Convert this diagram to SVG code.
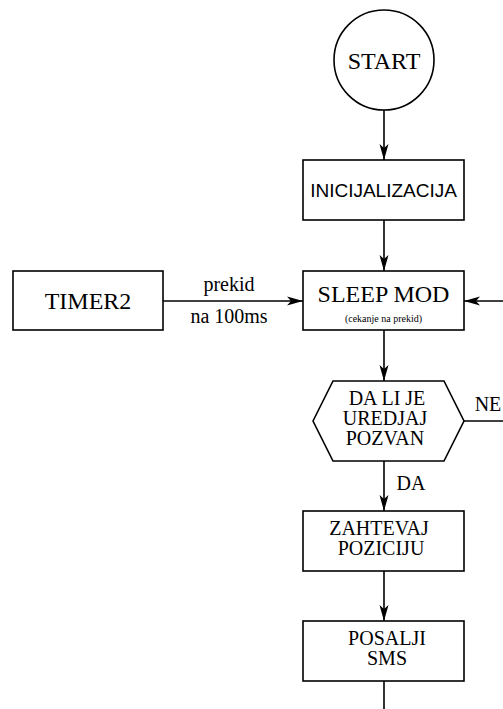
<svg xmlns="http://www.w3.org/2000/svg" width="503" height="709" viewBox="0 0 503 709">
<style>
.shape{fill:#fff;stroke:#000;stroke-width:1.6}
.serif{font-family:"Liberation Serif","Times New Roman",serif;fill:#000;text-anchor:middle}
.sans{font-family:"Liberation Sans",Arial,sans-serif;fill:#000;text-anchor:middle}
.edge{fill:none;stroke:#000;stroke-width:1.6}
</style>
<defs>
<marker id="arr" markerUnits="userSpaceOnUse" markerWidth="18" markerHeight="12" viewBox="-17 -6 18 12" refX="0" refY="0" orient="auto">
<path d="M0,0 L-16,-4.5 L-12,0 L-16,4.5 z" fill="#000"/>
</marker>
</defs>
<g id="connectors">
<line class="edge" x1="384" y1="110" x2="384" y2="160" marker-end="url(#arr)"/>
<line class="edge" x1="384" y1="220" x2="384" y2="271" marker-end="url(#arr)"/>
<line class="edge" x1="163" y1="301" x2="303" y2="301" marker-end="url(#arr)"/>
<line class="edge" x1="503" y1="301" x2="464" y2="301" marker-end="url(#arr)"/>
<line class="edge" x1="384" y1="330" x2="384" y2="381" marker-end="url(#arr)"/>
<line class="edge" x1="464" y1="421" x2="503" y2="421"/>
<line class="edge" x1="384" y1="461" x2="384" y2="511" marker-end="url(#arr)"/>
<line class="edge" x1="384" y1="571" x2="384" y2="621" marker-end="url(#arr)"/>
<line class="edge" x1="384" y1="681" x2="384" y2="709"/>
<text class="serif" x="229" y="291" font-size="20">prekid</text>
<text class="serif" x="229" y="323" font-size="20">na 100ms</text>
<text class="serif" x="488" y="411" font-size="20">NE</text>
<text class="serif" x="411" y="490" font-size="20">DA</text>
</g>
<g id="start">
<circle class="shape" cx="384" cy="60" r="50"/>
<text class="serif" x="384" y="69" font-size="24">START</text>
</g>
<g id="inicijalizacija">
<rect class="shape" x="303" y="160" width="161" height="60"/>
<text class="sans" x="383.5" y="197" font-size="19">INICIJALIZACIJA</text>
</g>
<g id="timer2">
<rect class="shape" x="13" y="271" width="150" height="59"/>
<text class="serif" x="88" y="309" font-size="24">TIMER2</text>
</g>
<g id="sleep">
<rect class="shape" x="303" y="271" width="161" height="59"/>
<text class="serif" x="383.5" y="302" font-size="24">SLEEP MOD</text>
<text class="serif" x="383.5" y="322" font-size="10">(cekanje na prekid)</text>
</g>
<g id="pozvan">
<polygon class="shape" points="313,421 333,381 444,381 464,421 444,461 333,461"/>
<text class="serif" x="387" y="405" font-size="20">DA LI JE</text>
<text class="serif" x="385" y="425" font-size="20">UREDJAJ</text>
<text class="serif" x="385" y="445" font-size="20">POZVAN</text>
</g>
<g id="zahtevaj">
<rect class="shape" x="303" y="511" width="161" height="60"/>
<text class="serif" x="379" y="535" font-size="20">ZAHTEVAJ</text>
<text class="serif" x="381" y="555" font-size="20">POZICIJU</text>
</g>
<g id="posalji">
<rect class="shape" x="303" y="621" width="161" height="60"/>
<text class="serif" x="387" y="645" font-size="20">POSALJI</text>
<text class="serif" x="387" y="665" font-size="20">SMS</text>
</g>
</svg>
